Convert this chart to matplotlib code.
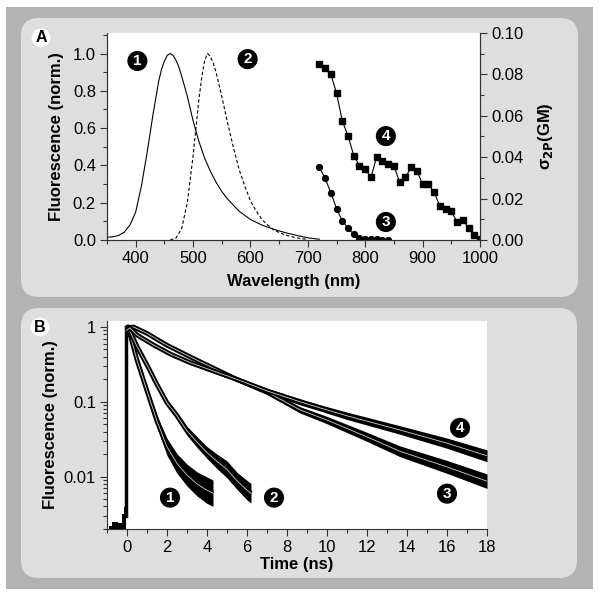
import matplotlib
matplotlib.use("Agg")
import matplotlib.pyplot as plt
from matplotlib.patches import FancyBboxPatch, Rectangle
import numpy as np

plt.rcParams['font.family'] = ['Liberation Sans', 'DejaVu Sans']

# ---- panel A data ----
wl1 = [350, 360, 370, 380, 390, 400, 410, 420, 430, 440, 445, 450, 455, 460, 465, 470,
       475, 480, 490, 500, 510, 520, 530, 540, 550, 560, 580, 600, 620, 640, 660, 680,
       700, 720]
em1 = [0.015, 0.017, 0.024, 0.042, 0.08, 0.15, 0.29, 0.47, 0.67, 0.85, 0.915, 0.96,
       0.99, 1.0, 0.99, 0.965, 0.93, 0.88, 0.77, 0.64, 0.53, 0.44, 0.37, 0.31, 0.26,
       0.22, 0.155, 0.11, 0.08, 0.058, 0.04, 0.025, 0.012, 0.004]
wl2 = [460, 470, 480, 490, 500, 510, 515, 520, 525, 530, 535, 540, 550, 560, 570, 580,
       590, 600, 610, 620, 630, 640, 650, 660, 670, 680, 690, 700]
em2 = [0.0, 0.01, 0.06, 0.2, 0.45, 0.75, 0.87, 0.96, 1.0, 0.985, 0.95, 0.9, 0.77, 0.63,
       0.5, 0.38, 0.29, 0.21, 0.155, 0.11, 0.08, 0.055, 0.04, 0.028, 0.019, 0.012,
       0.007, 0.003]

wl_2p = [720, 730, 740, 750, 760, 770, 780, 790, 800, 810, 820, 830, 840, 850, 860,
         870, 880, 890, 900, 910, 920, 930, 940, 950, 960, 970, 980, 990, 1000]
gm4 = [0.0849, 0.0829, 0.080, 0.071, 0.0575, 0.0503, 0.0408, 0.0359, 0.0343, 0.0302,
       0.0403, 0.0384, 0.0367, 0.0359, 0.0278, 0.0302, 0.0351, 0.0335, 0.0269, 0.0269,
       0.0232, 0.0163, 0.0152, 0.0139, 0.0087, 0.0095, 0.006, 0.0026, 0.0003]
wl3 = [720, 730, 740, 750, 760, 770, 780, 790, 800, 810, 820, 830, 840]
gm3 = [0.0351, 0.0299, 0.0229, 0.0152, 0.0093, 0.0057, 0.0028, 0.001, 0.0007, 0.0005,
       0.0003, 0.0002, 0.0001]

# ---- panel B data (decays, fit values + noise spread factor) ----
t_base = [-0.9, -0.6, -0.3, -0.2, -0.1, -0.03]
v_base = [0.0022, 0.0025, 0.0024, 0.0032, 0.0039, 0.0035]

t1 = [-0.03, 0.05, 0.5, 1.0, 1.5, 2.0, 2.5, 3.0, 3.5, 4.0, 4.3]
v1 = [0.95, 1.0, 0.36, 0.14, 0.055, 0.025, 0.015, 0.0105, 0.008, 0.0066, 0.006]
s1 = [1.05, 1.05, 1.08, 1.12, 1.2, 1.3, 1.35, 1.4, 1.45, 1.5, 1.5]

t2 = [-0.03, 0.05, 0.5, 1.0, 1.5, 2.0, 2.5, 3.0, 3.5, 4.0, 4.5, 5.0, 5.5, 6.0, 6.2]
v2 = [0.95, 1.0, 0.55, 0.31, 0.17, 0.097, 0.065, 0.041, 0.029, 0.021, 0.016, 0.0125,
      0.0088, 0.0066, 0.006]
s2 = [1.05, 1.05, 1.06, 1.07, 1.08, 1.1, 1.12, 1.15, 1.18, 1.2, 1.25, 1.3, 1.3, 1.35, 1.35]

t3 = [-0.03, 0.15, 0.32, 1, 2, 3.15, 4, 5.48, 7, 8.65, 10, 12, 13.65, 16, 18]
v3 = [0.9, 0.98, 1.0, 0.82, 0.57, 0.40, 0.31, 0.20, 0.135, 0.078, 0.057, 0.034,
      0.0218, 0.0135, 0.0087]
s3 = [1.05, 1.05, 1.05, 1.05, 1.05, 1.06, 1.06, 1.07, 1.08, 1.1, 1.12, 1.15, 1.18,
      1.22, 1.25]

t4 = [-0.03, 0.15, 0.5, 1.32, 2.2, 3.15, 5.48, 7, 8.65, 9.65, 11, 13.65, 16, 18]
v4 = [0.9, 0.97, 0.78, 0.575, 0.43, 0.334, 0.2, 0.14, 0.1, 0.083, 0.065, 0.042, 0.028,
      0.019]
s4 = [1.05, 1.05, 1.05, 1.05, 1.05, 1.06, 1.07, 1.08, 1.1, 1.1, 1.12, 1.14, 1.17, 1.2]

fig = plt.figure(figsize=(6.0, 5.94), dpi=100)
W, H = 600.0, 594.0


def fx(px):
    return px / W


def fy(py):
    return 1 - py / H


# backgrounds
fig.patches.append(Rectangle((fx(6), fy(589)), fx(587), (589 - 7) / H,
                             transform=fig.transFigure, fc='#b3b3b3', ec='none', zorder=-3))
for (x0, y0, x1, y1) in [(21, 18, 578, 297), (21, 308, 577, 578)]:
    fig.patches.append(FancyBboxPatch((fx(x0), fy(y1)), (x1 - x0) / W, (y1 - y0) / H,
                                      boxstyle="round,pad=0,rounding_size=0.03",
                                      transform=fig.transFigure, fc='#dedede',
                                      ec='none', zorder=-2))

for lab, (px, py) in [('A', (41, 38)), ('B', (40, 327))]:
    fig.text(fx(px), fy(py), lab, ha='center', va='center', fontsize=11.5,
             fontweight='bold', color='black',
             bbox=dict(boxstyle='circle,pad=0.12', fc='white', ec='none'))


def badge(ax, x, y, s):
    ax.text(x, y, s, ha='center', va='center', fontsize=11, fontweight='bold',
            color='white', zorder=10,
            bbox=dict(boxstyle='circle,pad=0.2', fc='black', ec='none'))


tick_kw = dict(direction='out', width=0.8, color='#333333')
lab_kw = dict(fontweight='bold', fontsize=12)

# ---------------- panel A ----------------
ax = fig.add_axes([fx(107), fy(240), (480 - 107) / W, (240 - 33) / H])
ax.plot(wl1, em1, color='black', lw=0.8)
ax.plot(wl2, em2, color='black', lw=0.8, ls=(0, (3, 2)))
ax.set_xlim(350, 1000)
ax.set_ylim(0, 1.11)
ax.set_xticks(np.arange(400, 1001, 100))
ax.set_xticks(np.arange(350, 1001, 50), minor=True)
ax.set_yticks(np.arange(0, 1.01, 0.2))
ax.set_yticks(np.arange(0, 1.11, 0.1), minor=True)
ax.set_yticklabels(['0.0', '0.2', '0.4', '0.6', '0.8', '1.0'])
ax.spines['top'].set_visible(False)
ax.set_xlabel('Wavelength (nm)', labelpad=6, **lab_kw)
ax.set_ylabel('Fluorescence (norm.)', labelpad=6, **lab_kw)

ax2 = ax.twinx()
ax2.plot(wl_2p, gm4, color='black', lw=0.8, marker='s', ms=4)
ax2.plot(wl3, gm3, color='black', lw=0.8, marker='o', ms=4.2)
ax2.set_ylim(0, 0.1)
ax2.set_yticks(np.arange(0, 0.101, 0.02))
ax2.set_yticks(np.arange(0, 0.101, 0.01), minor=True)
ax2.set_yticklabels(['0.00', '0.02', '0.04', '0.06', '0.08', '0.10'])
ax2.spines['top'].set_visible(False)
ax2.set_ylabel(r'σ$_{\mathbf{2P}}$(GM)', labelpad=9, **lab_kw)

for a in (ax, ax2):
    a.tick_params(which='major', length=5, labelsize=12, pad=3, **tick_kw)
    a.tick_params(which='minor', length=3, **tick_kw)
    for sp in a.spines.values():
        sp.set_color('#333333')
        sp.set_linewidth(0.8)

badge(ax, 403, 0.96, '1')
badge(ax, 595, 0.97, '2')
badge(ax2, 836, 0.0087, '3')
badge(ax2, 836, 0.0502, '4')

# ---------------- panel B ----------------
bx = fig.add_axes([fx(107), fy(529), (487 - 107) / W, (529 - 321) / H])
bx.set_yscale('log')
bx.fill_between(t_base, 0.002, v_base, color='black', lw=0, step='mid')
bx.plot([-0.03, -0.03], [0.003, 1.0], color='black', lw=2.5)
for t, v, s in [(t1, v1, s1), (t2, v2, s2), (t3, v3, s3), (t4, v4, s4)]:
    t = np.array(t)
    v = np.array(v)
    s = np.array(s)
    bx.fill_between(t, v / s, v * s, color='black', lw=0)
    bx.plot(t, v, color='black', lw=3.4, solid_capstyle='butt')
    bx.plot(t, v, color='#d0d0d0', lw=0.6)

bx.set_xlim(-1, 18)
bx.set_ylim(0.002, 1.2)
bx.set_xticks(np.arange(0, 19, 2))
bx.set_xticks(np.arange(-1, 19, 1), minor=True)
bx.set_yticks([0.01, 0.1, 1])
bx.set_yticklabels(['0.01', '0.1', '1'])
bx.spines['top'].set_visible(False)
bx.spines['right'].set_visible(False)
bx.tick_params(which='major', length=5, labelsize=12, pad=3, **tick_kw)
bx.tick_params(which='minor', length=3, **tick_kw)
for sp in bx.spines.values():
    sp.set_color('#333333')
    sp.set_linewidth(0.8)
bx.set_xlabel('Time (ns)', labelpad=1, **lab_kw)
bx.set_ylabel('Fluorescence (norm.)', labelpad=4, **lab_kw)

badge(bx, 2.15, 0.00525, '1')
badge(bx, 7.35, 0.00525, '2')
badge(bx, 16.0, 0.00593, '3')
badge(bx, 16.65, 0.0448, '4')

fig.savefig('out.png', dpi=100)
